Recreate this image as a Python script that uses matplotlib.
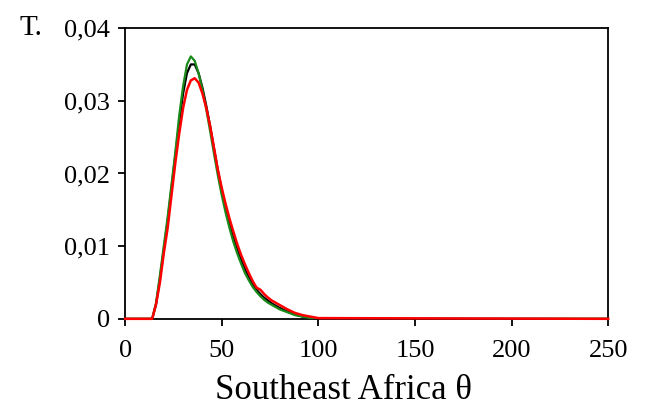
import matplotlib
matplotlib.use("Agg")
import matplotlib.pyplot as plt
from matplotlib.ticker import FuncFormatter

plt.rcParams['font.family'] = ['Liberation Serif', 'DejaVu Serif']

# theta grid (shared by the three distributions)
theta = [0, 12, 14, 16, 18, 20, 22, 24, 26, 28, 30, 32, 34, 36, 38, 40, 42, 44,
         46, 48, 50, 52, 54, 56, 58, 60, 62, 64, 66, 68, 70, 72, 74, 76, 78,
         80, 84, 88, 92, 96, 100, 250]

dens_black = [0, 0, 0.0000, 0.0020, 0.0055, 0.0095, 0.0135, 0.0180, 0.0225,
              0.0270, 0.0310, 0.0338, 0.0350, 0.0350, 0.0338, 0.0318, 0.0293,
              0.0265, 0.0234, 0.0204, 0.0177, 0.0154, 0.0133, 0.0114, 0.0097,
              0.0082, 0.0069, 0.0058, 0.0048, 0.0040, 0.0034, 0.0029, 0.0025,
              0.0021, 0.0018, 0.0015, 0.0010, 0.0006, 0.0003, 0.0001, 0, 0]

dens_green = [0, 0, 0.0000, 0.0022, 0.0060, 0.0100, 0.0140, 0.0185, 0.0230,
              0.0280, 0.0320, 0.0350, 0.0361, 0.0355, 0.0338, 0.0315, 0.0288,
              0.0258, 0.0227, 0.0197, 0.0170, 0.0146, 0.0125, 0.0106, 0.0090,
              0.0076, 0.0063, 0.0053, 0.0044, 0.0037, 0.0031, 0.0026, 0.0022,
              0.0019, 0.0016, 0.0013, 0.0009, 0.0005, 0.0003, 0.0001, 0, 0]

dens_red = [0, 0, 0.0000, 0.0020, 0.0050, 0.0090, 0.0125, 0.0170, 0.0215,
            0.0255, 0.0290, 0.0315, 0.0328, 0.0331, 0.0325, 0.0310, 0.0290,
            0.0265, 0.0235, 0.0205, 0.0180, 0.0158, 0.0138, 0.0120, 0.0103,
            0.0088, 0.0075, 0.0063, 0.0052, 0.0043, 0.0040, 0.0034, 0.0029,
            0.0025, 0.0022, 0.0019, 0.0013, 0.0008, 0.0005, 0.0003, 0.0001, 0]

x_ticks = [0, 50, 100, 150, 200, 250]
y_ticks = [0, 0.01, 0.02, 0.03, 0.04]


def comma_fmt(v, pos):
    if v == 0:
        return '0'
    return f'{v:.2f}'.replace('.', ',')


fig = plt.figure(figsize=(6.45, 4.13), dpi=100)
ax = fig.add_axes([0.194, 0.228, 0.749, 0.704])

ax.plot(theta, dens_black, color='black', lw=1.6, zorder=3)
ax.plot(theta, dens_green, color='#1a8a1a', lw=1.6, zorder=3)
ax.plot(theta, dens_red, color='#ff0000', lw=1.8, zorder=4, clip_on=False)

ax.set_xlim(0, 250)
ax.set_ylim(0, 0.04)
ax.set_xticks(x_ticks)
ax.set_yticks(y_ticks)
ax.yaxis.set_major_formatter(FuncFormatter(comma_fmt))
ax.tick_params(direction='out', length=5, width=1.3, labelsize=19)
ax.tick_params(axis='y', pad=6)
ax.tick_params(axis='x', pad=10)
for s in ax.spines.values():
    s.set_linewidth(1.3)

fig.text(0.533, 0.035, 'Southeast Africa θ', fontsize=25,
         ha='center', va='baseline')
fig.text(0.031, 0.915, 'T.', fontsize=21)

fig.savefig('out.png', dpi=100)
